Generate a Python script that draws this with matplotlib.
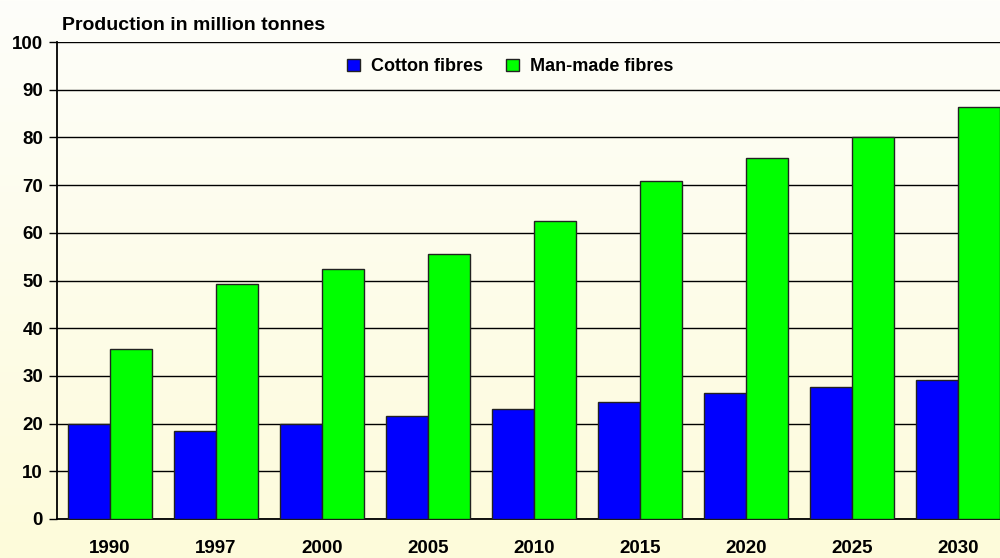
import numpy as np
import matplotlib.pyplot as plt

years = ["1990", "1997", "2000", "2005", "2010", "2015", "2020", "2025", "2030"]
cotton = [20.0, 18.5, 20.0, 21.6, 23.1, 24.5, 26.4, 27.7, 29.1]
man_made = [35.6, 49.3, 52.4, 55.6, 62.5, 70.9, 75.7, 80.1, 86.4]

plt.rcParams['font.family'] = ['Liberation Sans', 'DejaVu Sans']
plt.rcParams['font.weight'] = 'bold'

fig = plt.figure(figsize=(10, 5.58), dpi=100)

# vertical gradient background, near white at top to pale yellow at bottom
bg = fig.add_axes([0, 0, 1, 1], zorder=-1)
top = np.array([254, 254, 250]) / 255
bottom = np.array([253, 251, 218]) / 255
t = np.linspace(0, 1, 256)[:, None]
grad = top * (1 - t) + bottom * t
bg.imshow(grad[:, None, :], aspect='auto', extent=[0, 1, 0, 1])
bg.axis('off')

ax = fig.add_axes([0.057, 0.0699, 0.954, 0.8548])
ax.patch.set_visible(False)

x = np.arange(len(years))
w = 0.4
ax.bar(x - w / 2, cotton, w, color='#0000ff', edgecolor='#222222', linewidth=1.0,
       label='Cotton fibres', zorder=3)
ax.bar(x + w / 2, man_made, w, color='#00ff00', edgecolor='#222222', linewidth=1.0,
       label='Man-made fibres', zorder=3)

ax.set_xlim(-0.5, 8.5)
ax.set_ylim(0, 100)
ax.set_yticks(range(0, 101, 10))
ax.set_xticks(x)
ax.set_xticklabels(years)
ax.yaxis.grid(True, color='black', linewidth=1.0, zorder=0)
ax.set_axisbelow(True)
for s in ['top', 'right']:
    ax.spines[s].set_visible(False)
ax.spines['left'].set_linewidth(1.3)
ax.spines['bottom'].set_linewidth(1.3)
ax.tick_params(axis='y', length=6, width=1.0, labelsize=13.5, pad=4)
ax.tick_params(axis='x', length=0, labelsize=13.5, pad=15)

ax.legend(loc='center', bbox_to_anchor=(0.475, 0.948), ncol=2, frameon=False,
          fontsize=13, handlelength=0.7, handleheight=0.7, columnspacing=1.3,
          handletextpad=0.6)

fig.text(0.062, 0.955, 'Production in million tonnes', fontsize=14,
         fontweight='bold', va='center')

fig.savefig('out.png', dpi=100)
